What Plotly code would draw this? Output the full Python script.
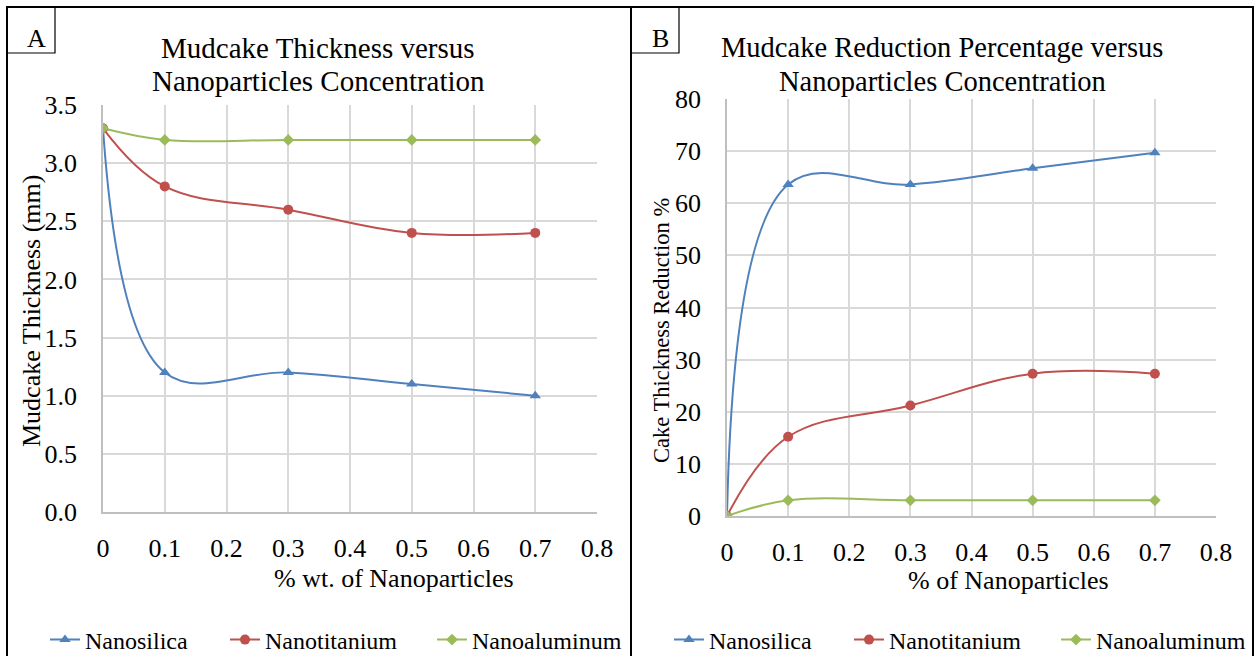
import plotly.graph_objects as go

# ---- data ----
conc = [0, 0.1, 0.3, 0.5, 0.7]
series_names = ["Nanosilica", "Nanotitanium", "Nanoaluminum"]
thick_silica = [3.3, 1.2, 1.2, 1.1, 1.0]
thick_titanium = [3.3, 2.8, 2.6, 2.4, 2.4]
thick_aluminum = [3.3, 3.2, 3.2, 3.2, 3.2]
red_silica = [0, 63.6, 63.6, 66.7, 69.7]
red_titanium = [0, 15.2, 21.2, 27.3, 27.3]
red_aluminum = [0, 3.0, 3.0, 3.0, 3.0]
x_ticks = [0, 0.1, 0.2, 0.3, 0.4, 0.5, 0.6, 0.7, 0.8]
y_ticks_a = [0, 0.5, 1.0, 1.5, 2.0, 2.5, 3.0, 3.5]
y_ticks_b = [0, 10, 20, 30, 40, 50, 60, 70, 80]

colors = ["#4F81BD", "#C0504D", "#9BBB59"]
symbols = ["triangle-up", "circle", "diamond"]
msizes = [10, 10, 9]
SERIF = "Liberation Serif"
W, H = 1255, 656
SMOOTH = 1.1

def px(x):
    return x / W

def py(y):
    return 1 - y / H

fig = go.Figure()
legend_ids_a = ["legend", "legend2", "legend3"]
legend_ids_b = ["legend4", "legend5", "legend6"]
for i, ys in enumerate([thick_silica, thick_titanium, thick_aluminum]):
    fig.add_trace(go.Scatter(
        x=conc, y=ys, name=series_names[i], mode="lines+markers",
        line=dict(color=colors[i], width=2, shape="spline", smoothing=SMOOTH),
        marker=dict(symbol=symbols[i], size=msizes[i], color=colors[i]),
        xaxis="x", yaxis="y", legend=legend_ids_a[i]))
for i, ys in enumerate([red_silica, red_titanium, red_aluminum]):
    fig.add_trace(go.Scatter(
        x=conc, y=ys, name=series_names[i], mode="lines+markers",
        line=dict(color=colors[i], width=2, shape="spline", smoothing=SMOOTH),
        marker=dict(symbol=symbols[i], size=msizes[i], color=colors[i]),
        xaxis="x2", yaxis="y2", legend=legend_ids_b[i]))

axis_common = dict(
    showgrid=True, gridcolor="#D9D9D9", gridwidth=1.5,
    showline=True, linecolor="#BFBFBF", linewidth=1.5,
    zeroline=False, ticks="", mirror=False, automargin=False,
    tickfont=dict(family=SERIF, size=26, color="black"),
)
fig.update_layout(
    template="none",
    width=W, height=H, margin=dict(l=0, r=0, t=0, b=0, autoexpand=False),
    paper_bgcolor="white", plot_bgcolor="white",
    xaxis=dict(domain=[px(103), px(597)], range=[0, 0.8], tickvals=x_ticks,
               ticktext=[str(v) for v in x_ticks], anchor="y",
               ticklabelstandoff=12, **axis_common),
    yaxis=dict(domain=[py(512), py(105)], range=[0, 3.5], tickvals=y_ticks_a,
               ticktext=[f"{v:.1f}" for v in y_ticks_a], anchor="x",
               ticklabelstandoff=19, **axis_common),
    xaxis2=dict(domain=[px(727), px(1216)], range=[0, 0.8], tickvals=x_ticks,
                ticktext=[str(v) for v in x_ticks], anchor="y2",
                ticklabelstandoff=12, **axis_common),
    yaxis2=dict(domain=[py(516), py(99)], range=[0, 80], tickvals=y_ticks_b,
                ticktext=[str(v) for v in y_ticks_b], anchor="x2",
                ticklabelstandoff=19, **axis_common),
    showlegend=True,
)

legend_x = [45, 225, 432]
for ids, off in [(legend_ids_a, 0), (legend_ids_b, 624)]:
    for lid, lx in zip(ids, legend_x):
        fig.update_layout({lid: dict(
            orientation="h", x=px(lx + off), y=py(640), xanchor="left", yanchor="middle",
            font=dict(family=SERIF, size=24, color="black"),
            bgcolor="rgba(0,0,0,0)", itemwidth=30)})

shapes = [
    dict(type="rect", xref="paper", yref="paper", x0=px(7), x1=px(631), y0=py(670), y1=py(7),
         line=dict(color="black", width=2)),
    dict(type="rect", xref="paper", yref="paper", x0=px(631), x1=px(1253), y0=py(670), y1=py(7),
         line=dict(color="black", width=2)),
    dict(type="rect", xref="paper", yref="paper", x0=px(7), x1=px(55), y0=py(53), y1=py(7),
         line=dict(color="black", width=1.2)),
    dict(type="rect", xref="paper", yref="paper", x0=px(631), x1=px(679), y0=py(53), y1=py(7),
         line=dict(color="black", width=1.2)),
]
fig.update_layout(shapes=shapes)

def ann(text, x, y, size, angle=0):
    fig.add_annotation(text=text, x=px(x), y=py(y), xref="paper", yref="paper",
                       showarrow=False, xanchor="center", yanchor="middle",
                       textangle=angle, font=dict(family=SERIF, size=size, color="black"))

ann("A", 36, 38, 26)
ann("B", 660, 38, 26)
ann("Mudcake Thickness versus", 318, 48, 29)
ann("Nanoparticles Concentration", 318, 81, 29)
ann("Mudcake Reduction Percentage versus", 942, 48, 28.5)
ann("Nanoparticles Concentration", 942, 81, 28.5)
ann("Mudcake Thickness (mm)", 31, 311, 26, -90)
ann("Cake Thickness Reduction %", 662, 331, 22.5, -90)
ann("% wt. of Nanoparticles", 394, 578, 26)
ann("% of Nanoparticles", 1008, 580, 26)

fig.write_html("out.html", post_script="document.body.style.margin='0';",
               config={"displayModeBar": False})
